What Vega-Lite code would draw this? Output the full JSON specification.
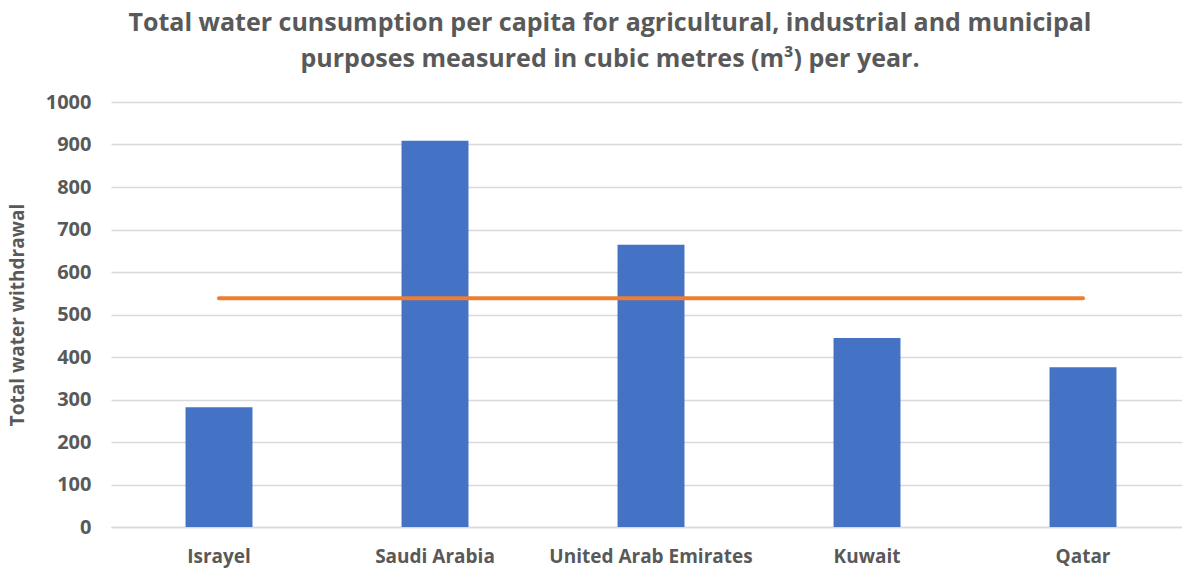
{
  "$schema": "https://vega.github.io/schema/vega-lite/v6.json",
  "autosize": {"type": "none"},
  "width": 1080,
  "height": 425,
  "padding": {"left": 111, "top": 102, "right": 0, "bottom": 44},
  "background": "white",
  "title": {
    "text": ["Total water cunsumption per capita for agricultural, industrial and municipal", "purposes measured in cubic metres (m³) per year."],
    "font": "Open Sans",
    "fontSize": 25,
    "fontWeight": "bold",
    "color": "#595959",
    "lineHeight": 36,
    "anchor": "middle",
    "frame": "group",
    "dx": -41,
    "offset": 20
  },
  "data": {
    "values": [
      {"country": "Israyel", "value": 282, "avg": 538},
      {"country": "Saudi Arabia", "value": 909, "avg": 538},
      {"country": "United Arab Emirates", "value": 664, "avg": 538},
      {"country": "Kuwait", "value": 445, "avg": 538},
      {"country": "Qatar", "value": 376, "avg": 538}
    ]
  },
  "config": {
    "view": {"stroke": null},
    "axis": {"labelFont": "Open Sans", "titleFont": "Open Sans", "labelColor": "#595959", "titleColor": "#595959", "labelFontWeight": "bold", "titleFontWeight": "bold"}
  },
  "encoding": {
    "x": {
      "field": "country", "type": "nominal", "sort": null,
      "scale": {"paddingInner": 0.69, "paddingOuter": 0.345},
      "axis": {"title": null, "labelAngle": 0, "labelFontSize": 19, "labelLimit": 400, "labelPadding": 20, "ticks": false, "domainColor": "#d9d9d9", "domainWidth": 1.5}
    }
  },
  "layer": [
    {
      "mark": {"type": "bar", "color": "#4472C4"},
      "encoding": {
        "y": {
          "field": "value", "type": "quantitative",
          "scale": {"domain": [0, 1000]},
          "axis": {"title": "Total water withdrawal", "titleFontSize": 19, "titlePadding": 18, "labelFontSize": 20, "labelPadding": 20, "format": "d", "labelOverlap": false, "values": [0,100,200,300,400,500,600,700,800,900,1000], "ticks": false, "domain": false, "gridColor": "#d9d9d9", "gridWidth": 1.5}
        }
      }
    },
    {
      "mark": {"type": "line", "color": "#ED7D31", "strokeWidth": 4, "strokeCap": "round"},
      "encoding": {
        "y": {"field": "avg", "type": "quantitative"}
      }
    }
  ]
}
